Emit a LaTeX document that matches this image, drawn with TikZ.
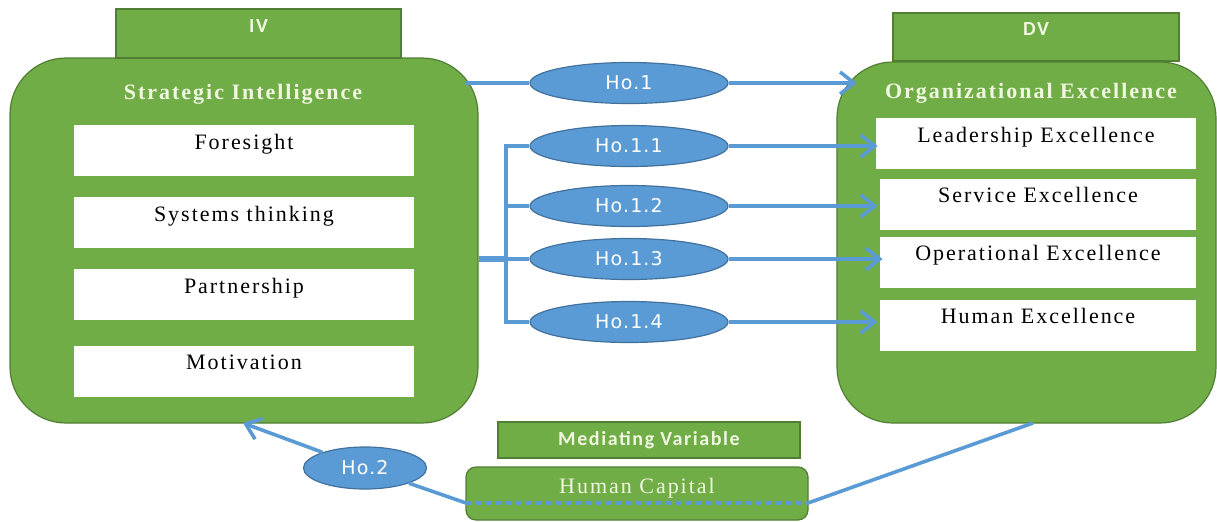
\documentclass[tikz,border=0pt]{standalone}
\usepackage{fontspec}
\setmainfont{Liberation Serif}
\newfontfamily\spserif[LetterSpace=9]{Liberation Serif}
\newfontfamily\hofont[LetterSpace=6]{DejaVu Sans}
\newfontfamily\hdfont[LetterSpace=8]{Carlito}
\usetikzlibrary{arrows.meta,shapes.geometric}
\definecolor{gfill}{HTML}{70AD47}
\definecolor{gline}{HTML}{507E32}
\definecolor{bfill}{HTML}{5B9BD5}
\definecolor{bline}{HTML}{41719C}
\definecolor{ltext}{HTML}{F0F6E0}
\begin{document}
\begin{tikzpicture}[x=0.5pt,y=-0.5pt,
  bigbox/.style={draw=gline,line width=0.6pt,fill=gfill,rounded corners=28pt,inner sep=0pt},
  hdbox/.style={draw=gline,line width=0.6pt,fill=gfill,inner sep=0pt,text=ltext,
    font=\hdfont\bfseries\fontsize{10}{12}\selectfont},
  ttl/.style={inner sep=0pt,text=ltext,font=\spserif\bfseries\fontsize{11}{13}\selectfont},
  wbox/.style={fill=white,inner sep=0pt,minimum width=#1,
    font=\spserif\fontsize{11}{13}\selectfont,text height=12pt,text depth=13.5pt},
  hyp/.style={ellipse,draw=bline,line width=0.6pt,fill=bfill,inner sep=0pt,
    minimum width=99pt,minimum height=20.5pt,text=white,
    font=\hofont\fontsize{9.5}{11}\selectfont},
  conn/.style={draw=bfill,line width=1.8pt},
  arr/.style={-{Straight Barb[length=7pt,width=11pt]}}
]
\useasboundingbox (0,0) rectangle (1217,521);

% left block
\node[bigbox,minimum width=234pt,minimum height=182.5pt] (si) at (244,240.5) {};
\node[hdbox,minimum width=142.5pt,minimum height=24.5pt,text height=11.5pt,text depth=13pt] (iv) at (258.5,33.5) {IV};
\node[ttl,anchor=base] (sit) at (243,99) {Strategic Intelligence};
\node[wbox=170pt] (fs) at (244,150.5) {Foresight};
\node[wbox=170pt] (st) at (244,222.5) {Systems thinking};
\node[wbox=170pt] (pa) at (244,294.5) {Partnership};
\node[wbox=170pt] (mo) at (244,371) {Motivation};

% right block
\node[bigbox,minimum width=189.5pt,minimum height=180.5pt] (oe) at (1026.5,242.5) {};
\node[hdbox,minimum width=143pt,minimum height=24pt,text height=11.25pt,text depth=12.75pt] (dv) at (1036,37) {DV};
\node[ttl,anchor=base] (oet) at (1031,98) {Organizational Excellence};
\node[wbox=160pt] (le) at (1036,143.5) {Leadership Excellence};
\node[wbox=158pt] (se) at (1038,204) {Service Excellence};
\node[wbox=158pt] (op) at (1038,262) {Operational Excellence};
\node[wbox=158pt] (he) at (1038,325) {Human Excellence};

% hypotheses
\node[hyp] (h1) at (629,83) {Ho.1};
\node[hyp] (h11) at (629,146) {Ho.1.1};
\node[hyp] (h12) at (629,206) {Ho.1.2};
\node[hyp] (h13) at (629,259) {Ho.1.3};
\node[hyp] (h14) at (629,322) {Ho.1.4};

% bottom
\node[hdbox,minimum width=151pt,minimum height=18pt] (mv) at (649,440) {Mediating Variable};
\node[draw=gline,line width=0.6pt,fill=gfill,rounded corners=5pt,minimum width=171pt,minimum height=26.5pt,inner sep=0pt,
  text=ltext,font=\spserif\fontsize{11}{13}\selectfont,text height=13pt,text depth=13.5pt] (hc) at (637,493.5) {Human Capital};
\node[hyp,minimum width=61.5pt,minimum height=21pt] (h2) at (365,468) {Ho.2};

% coordinates
\coordinate (si1) at (466,83);
\coordinate (oe1) at (857,83);
\coordinate (bt) at (506,146);
\coordinate (bb) at (506,322);
\coordinate (bm) at (506,259);
\coordinate (hcl) at (466,503);
\coordinate (hcr) at (808,503);
\coordinate (sia) at (243,423);
\coordinate (oeb) at (1033,423);

% connectors
\draw[conn] (si1) -- (h1.west);
\draw[conn,arr] (h1.east) -- (oe1);
\draw[conn,line width=2.8pt] (si.east |- bm) -- (bm);
\draw[conn] (h11.west) -- (bt) -- (bb) -- (h14.west);
\draw[conn] (bt |- h12) -- (h12.west);
\draw[conn] (bm) -- (h13.west);
\draw[conn,arr] (h11.east) -- ([xshift=1pt]le.west |- h11);
\draw[conn,arr] (h12.east) -- ([xshift=-1pt]se.west |- h12);
\draw[conn,arr] (h13.east) -- ([xshift=1.5pt]op.west |- h13);
\draw[conn,arr] (h14.east) -- ([xshift=-1pt]he.west |- h14);
\draw[conn] (hcl) -- (h2);
\draw[conn,arr] (h2) -- (sia);
\draw[conn] (hcr) -- (oeb);
\draw[conn,dash pattern=on 2.5pt off 2.5pt] (hcl) -- (hcr);
\end{tikzpicture}
\end{document}
